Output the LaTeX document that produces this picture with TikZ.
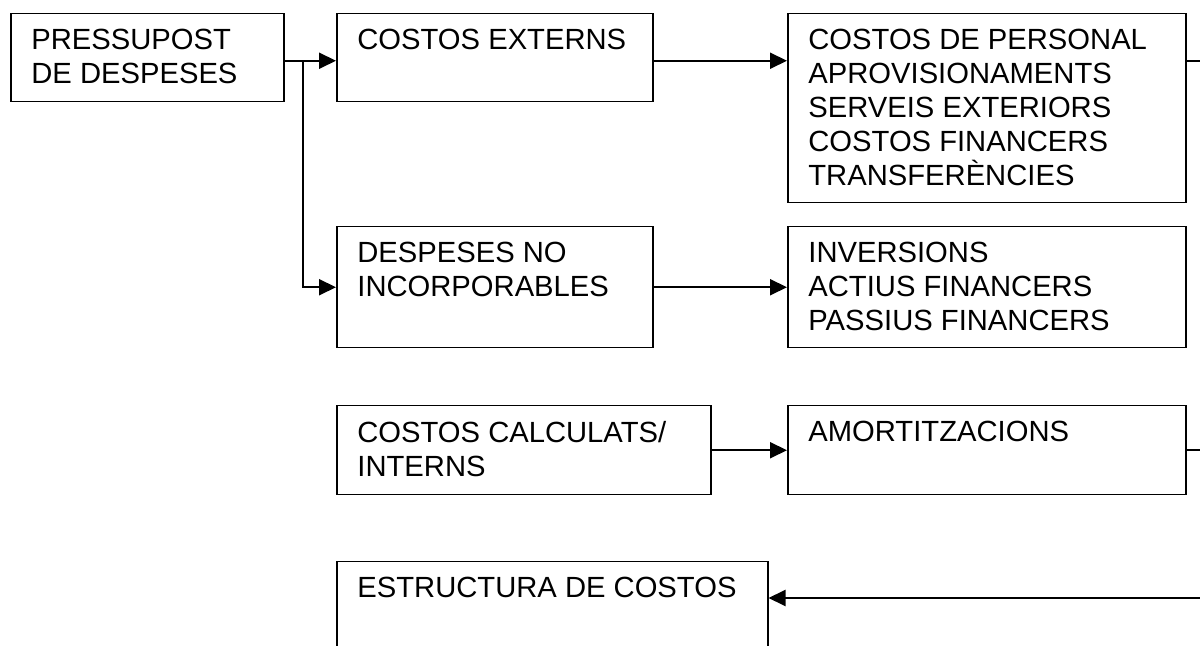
\documentclass[tikz,border=0pt]{standalone}
\usepackage{fontspec}
\setmainfont{Liberation Sans}
\usetikzlibrary{arrows.meta,calc}
\tikzset{
    >={Triangle[length=8.5pt,width=8pt]},
    box/.style={draw,line width=0.75pt,anchor=north west,inner sep=0pt},
    boxtext/.style={anchor=north west,inner sep=0pt,align=left,font=\fontsize{14.6}{17}\selectfont},
    link/.style={line width=1pt}
}

\begin{document}
\begin{tikzpicture}[x=0.5pt,y=-0.5pt]
    \useasboundingbox (0,0) rectangle (1200,646);
    \clip (0,0) rectangle (1200,646);

    % boxes
    \node[box,minimum width=136.5pt,minimum height=44pt] (pressupost) at (10,13) {};
    \node[box,minimum width=158pt,minimum height=44pt] (externs) at (336,13) {};
    \node[box,minimum width=199pt,minimum height=94.5pt] (personal) at (787,13) {};
    \node[box,minimum width=158pt,minimum height=60.5pt] (noincorp) at (336,226) {};
    \node[box,minimum width=199pt,minimum height=60.5pt] (inversions) at (787,226) {};
    \node[box,minimum width=187pt,minimum height=44.5pt] (calculats) at (336,405) {};
    \node[box,minimum width=199pt,minimum height=44.5pt] (amortitz) at (787,405) {};
    \node[box,minimum width=215.5pt,minimum height=60pt] (estructura) at (336,561) {};

    % texts
    \node[boxtext] (pressuposttext) at ([shift={(21,16)}]pressupost.north west) {PRESSUPOST\\DE DESPESES};
    \node[boxtext] (externstext) at ([shift={(21,16)}]externs.north west) {COSTOS EXTERNS};
    \node[boxtext] (personaltext) at ([shift={(21,16)}]personal.north west)
        {COSTOS DE PERSONAL\\APROVISIONAMENTS\\SERVEIS EXTERIORS\\COSTOS FINANCERS\\TRANSFERÈNCIES};
    \node[boxtext] (noincorptext) at ([shift={(21,16)}]noincorp.north west) {DESPESES NO\\INCORPORABLES};
    \node[boxtext] (inversionstext) at ([shift={(21,16)}]inversions.north west)
        {INVERSIONS\\ACTIUS FINANCERS\\PASSIUS FINANCERS};
    \node[boxtext] (calculatstext) at ([shift={(21,16)}]calculats.north west) {COSTOS CALCULATS/\\INTERNS};
    \node[boxtext] (amortitztext) at ([shift={(21,16)}]amortitz.north west) {AMORTITZACIONS};
    \node[boxtext] (estructuratext) at ([shift={(21,16)}]estructura.north west) {ESTRUCTURA DE COSTOS};

    % connectors
    \coordinate (split) at ($(pressupost.east)+(18,3)$);
    \coordinate (rim) at (1200,0);
    \coordinate (rimlow) at (1200,598);
    \draw[link,->] ([yshift=-1.5pt]pressupost.east) -- ([yshift=-1.5pt]externs.west);
    \draw[link,->] (split) |- (noincorp.west);
    \draw[link,->] ([yshift=-1.5pt]externs.east) -- ([yshift=-1.5pt]externs.east -| personal.west);
    \draw[link] ([yshift=-1.5pt]externs.east -| personal.east) -- ([yshift=-1.5pt]externs.east -| rim);
    \draw[link,->] (noincorp.east) -- (inversions.west);
    \draw[link,->] (calculats.east) -- (amortitz.west);
    \draw[link] (amortitz.east) -- (amortitz.east -| rim);
    \draw[link,->] (rimlow) -- (rimlow -| estructura.east);
\end{tikzpicture}
\end{document}
